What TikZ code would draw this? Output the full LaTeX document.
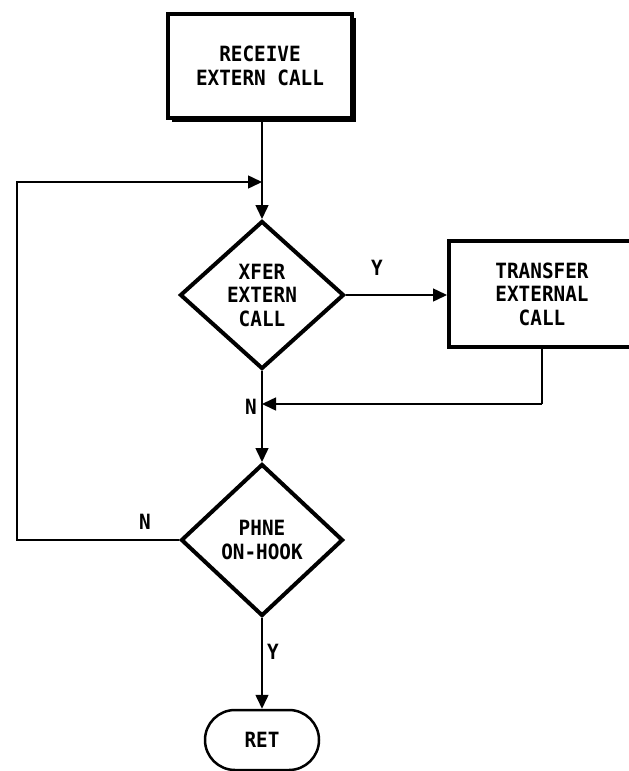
\documentclass[tikz,border=0pt]{standalone}
\usepackage{fontspec}
\newfontfamily\dm{DejaVu Sans Mono}[FakeStretch=0.92]
\usetikzlibrary{shapes.geometric,shapes.misc,arrows.meta,shadows}
\begin{document}
\begin{tikzpicture}[x=1pt,y=-1pt,
  txt/.style={font=\dm\bfseries\fontsize{21}{23.5}\selectfont, align=center},
  procbox/.style={txt, draw, line width=4pt, rectangle, inner sep=0pt},
  decis/.style={txt, draw, line width=4pt, diamond, inner sep=0pt},
  term/.style={txt, draw, line width=2.5pt, rounded rectangle, inner sep=0pt},
  conn/.style={line width=1.5pt},
  arr/.style={conn, -{Triangle[length=14pt,width=13pt]}},
  lbl/.style={font=\dm\bfseries\fontsize{21}{23.5}\selectfont}
]
\useasboundingbox (0,0) rectangle (629,771);
\node[procbox, minimum width=184pt, minimum height=104pt,
      drop shadow={shadow xshift=4pt, shadow yshift=-4pt, fill=black, opacity=1}, fill=white]
      (recv) at (260,66) {RECEIVE\\EXTERN CALL};
\node[decis, minimum width=164pt, minimum height=148pt] (d1) at (262,295) {XFER\\EXTERN\\CALL};
\node[procbox, minimum width=186pt, minimum height=106pt] (tr) at (542,294) {TRANSFER\\EXTERNAL\\CALL};
\node[decis, minimum width=162pt, minimum height=152pt] (d2) at (262,540) {PHNE\\ON-HOOK};
\node[term, minimum width=114pt, minimum height=60pt] (ret) at (262,740) {RET};

\coordinate (lp1) at (17,540);
\coordinate (lp2) at (17,182);
\coordinate (lp3) at (262,182);
\coordinate (jn) at (262,404);
\coordinate (trd) at (542,404);

\draw[arr] (recv.south -| d1.north) -- (d1.north);
\draw[arr] (d1.east) -- (tr.west |- d1.east);
\draw[arr] (d1.south) -- (d2.north);
\draw[conn] (tr.south -| trd) -- (trd);
\draw[arr] (trd) -- (jn);
\draw[conn] (d2.west) -- (lp1) -- (lp2) -- ++(10,0);
\draw[arr] (lp2) -- (lp3);
\draw[arr] (d2.south) -- (ret.north);

\node[lbl] (ly1) at (377,268) {Y};
\node[lbl] (ln1) at (251,407) {N};
\node[lbl] (ln2) at (145,522) {N};
\node[lbl] (ly2) at (273,652) {Y};
\end{tikzpicture}
\end{document}
